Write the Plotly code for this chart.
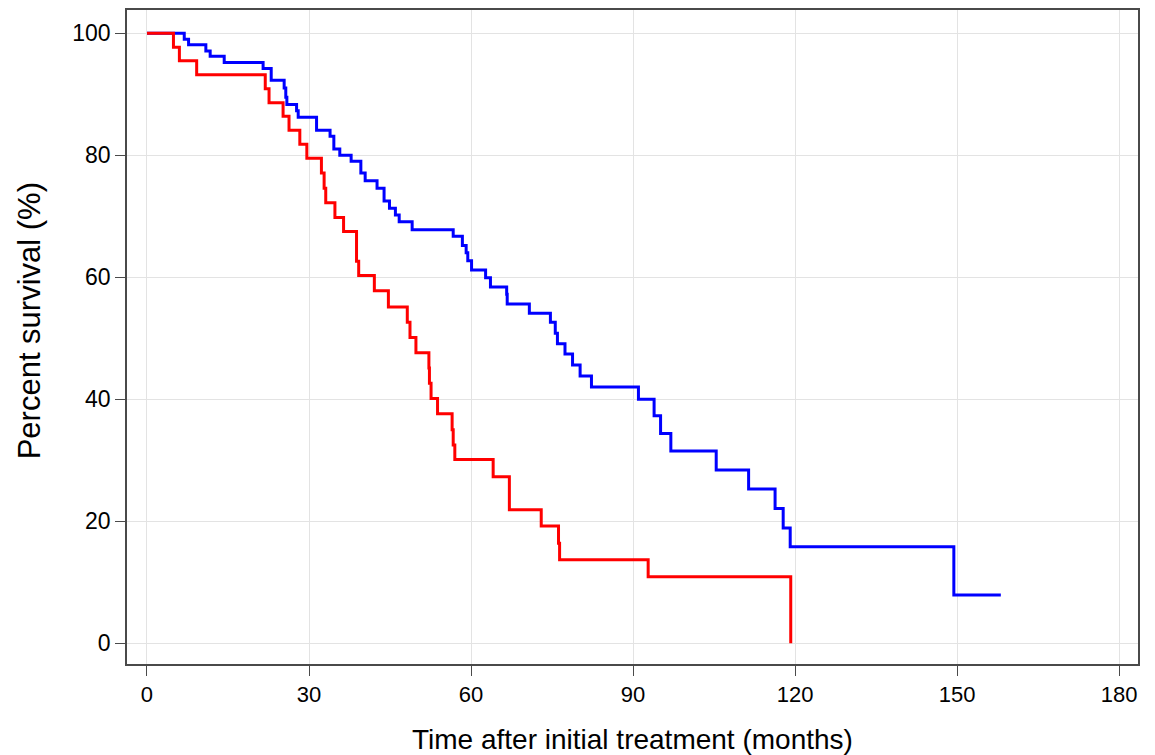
import plotly.graph_objects as go

# Blue group: event times (months) and survival (%) after each step
blue_time = [0, 6.9, 7.7, 10.9, 11.7, 14.3, 21.5, 23.0, 25.4, 25.7, 25.9, 27.7, 28.0,
             31.4, 33.9, 34.6, 35.7, 37.8, 39.6, 40.4, 42.6, 43.9, 44.9, 46.0, 46.7,
             49.1, 56.7, 58.4, 59.1, 59.4, 60.1, 62.7, 63.6, 66.6, 66.7, 70.8, 74.7,
             75.6, 76.0, 77.4, 78.8, 80.2, 82.3, 91.0, 93.9, 95.1, 97.0, 105.4, 111.4,
             116.3, 117.8, 119.1, 149.4, 158.1]
blue_surv = [100, 99.0, 98.1, 97.1, 96.2, 95.2, 94.2, 92.3, 91.0, 89.5, 88.3, 87.3, 86.2,
             84.1, 83.1, 81.0, 80.0, 79.0, 77.1, 75.8, 74.6, 72.5, 71.3, 70.2, 69.1,
             67.8, 66.7, 65.2, 64.0, 62.7, 61.2, 59.9, 58.4, 57.2, 55.6, 54.1, 52.6,
             50.8, 49.1, 47.4, 45.6, 43.8, 42.0, 40.0, 37.3, 34.4, 31.5, 28.4, 25.3,
             22.1, 18.9, 15.8, 7.9, 7.9]

# Red group
red_time = [0, 4.9, 6.0, 9.2, 21.9, 22.6, 25.2, 26.3, 28.3, 29.6, 32.3, 32.8, 33.1,
            34.8, 36.4, 38.8, 39.2, 42.1, 44.7, 48.2, 48.7, 49.8, 52.2, 52.3, 52.6,
            53.8, 56.5, 56.7, 57.0, 64.1, 67.1, 73.0, 76.2, 76.4, 92.8, 119.2]
red_surv = [100, 97.7, 95.5, 93.2, 90.9, 88.6, 86.4, 84.1, 81.8, 79.5, 77.1, 74.6, 72.2,
            69.8, 67.5, 62.6, 60.3, 57.8, 55.1, 52.6, 50.1, 47.6, 45.1, 42.6, 40.1,
            37.6, 35.0, 32.5, 30.1, 27.3, 21.9, 19.2, 16.4, 13.7, 10.9, 0]

x_ticks = [0, 30, 60, 90, 120, 150, 180]
y_ticks = [0, 20, 40, 60, 80, 100]
x_title = "Time after initial treatment (months)"
y_title = "Percent survival (%)"

fig = go.Figure()
fig.add_trace(go.Scatter(x=blue_time, y=blue_surv, mode="lines",
                         line=dict(color="#0000FF", width=3, shape="hv"),
                         showlegend=False, hoverinfo="skip"))
fig.add_trace(go.Scatter(x=red_time, y=red_surv, mode="lines",
                         line=dict(color="#FF0000", width=3, shape="hv"),
                         showlegend=False, hoverinfo="skip"))

fig.update_layout(
    width=1155, height=755,
    margin=dict(l=127, r=17, t=8, b=91),
    paper_bgcolor="white", plot_bgcolor="white",
    font=dict(family="Liberation Sans, Arial, sans-serif", color="#000000"),
)
fig.update_xaxes(
    range=[-3.7, 183.5], tickvals=x_ticks, ticktext=[str(v) for v in x_ticks],
    showgrid=True, gridcolor="#e3e3e3", gridwidth=1, zeroline=False,
    showline=True, mirror=True, linecolor="#4a4a4a", linewidth=1.5,
    ticks="outside", ticklen=10, tickcolor="#4a4a4a", tickwidth=1.2,
    tickfont=dict(size=22, color="#000000"),
)
fig.update_yaxes(
    range=[-3.4, 103.8], tickvals=y_ticks, ticktext=[str(v) for v in y_ticks],
    showgrid=True, gridcolor="#e3e3e3", gridwidth=1, zeroline=False,
    showline=True, mirror=True, linecolor="#4a4a4a", linewidth=1.5,
    ticks="outside", ticklen=10, tickcolor="#4a4a4a", tickwidth=1.2,
    tickfont=dict(size=23, color="#000000"),
)
fig.add_annotation(text=x_title, xref="paper", yref="paper", x=0.5, y=-0.116,
                   xanchor="center", yanchor="middle", showarrow=False,
                   font=dict(size=28, color="#000000"))
fig.add_annotation(text=y_title, xref="paper", yref="paper", x=-0.0969, y=0.524,
                   xanchor="center", yanchor="middle", showarrow=False, textangle=-90,
                   font=dict(size=31, color="#000000"))

fig.write_html("out.html")
